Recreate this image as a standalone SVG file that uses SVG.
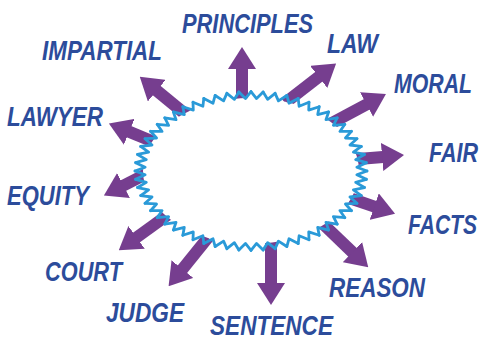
<svg xmlns="http://www.w3.org/2000/svg" xmlns:xlink="http://www.w3.org/1999/xlink" width="484" height="338" viewBox="0 0 484 338">
<style>
.lbl{font-family:"Liberation Sans",Arial,sans-serif;font-weight:bold;font-style:italic;font-size:27px;fill:#2C4C9B}
.shaft{stroke:#763E8F;stroke-width:12;fill:none}
.tooth{fill:none;stroke:#2A9AD8;stroke-width:2.8;stroke-linejoin:round;stroke-linecap:round}
</style>
<defs>
<marker id="head" viewBox="0 0 22 28" markerWidth="22" markerHeight="28" markerUnits="userSpaceOnUse" refX="1" refY="14" orient="auto">
<path d="M0,0 L22,14 L0,28 Z" fill="#763E8F"/>
</marker>
<polyline id="t" class="tooth" vector-effect="non-scaling-stroke" points="0,-104.5 4.998,-95.369 10.924,-103.929"/>
</defs>
<rect width="484" height="338" fill="#ffffff"/>
<g id="connectors">
<line class="shaft" x1="242" y1="100" x2="242" y2="68" marker-end="url(#head)"/>
<line class="shaft" x1="285" y1="103" x2="319.5" y2="76.3" marker-end="url(#head)"/>
<line class="shaft" x1="330" y1="124" x2="367.4" y2="104" marker-end="url(#head)"/>
<line class="shaft" x1="355" y1="159.3" x2="383.1" y2="156.9" marker-end="url(#head)"/>
<line class="shaft" x1="350" y1="198.3" x2="375.2" y2="206.9" marker-end="url(#head)"/>
<line class="shaft" x1="322" y1="223" x2="353.1" y2="252.8" marker-end="url(#head)"/>
<line class="shaft" x1="271" y1="241" x2="271" y2="284" marker-end="url(#head)"/>
<line class="shaft" x1="208" y1="237.5" x2="181.8" y2="269.9" marker-end="url(#head)"/>
<line class="shaft" x1="169" y1="214" x2="135.8" y2="238" marker-end="url(#head)"/>
<line class="shaft" x1="151" y1="171.5" x2="122.6" y2="186" marker-end="url(#head)"/>
<line class="shaft" x1="157" y1="143.2" x2="128.3" y2="131.4" marker-end="url(#head)"/>
<line class="shaft" x1="187" y1="115.5" x2="156" y2="90" marker-end="url(#head)"/>
</g>
<g id="center">
<ellipse cx="251" cy="171" rx="108" ry="73" fill="#ffffff"/>
<g transform="translate(251,171) scale(1.11,0.76)">
<use xlink:href="#t" transform="rotate(0)"/><use xlink:href="#t" transform="rotate(6)"/><use xlink:href="#t" transform="rotate(12)"/><use xlink:href="#t" transform="rotate(18)"/><use xlink:href="#t" transform="rotate(24)"/><use xlink:href="#t" transform="rotate(30)"/><use xlink:href="#t" transform="rotate(36)"/><use xlink:href="#t" transform="rotate(42)"/><use xlink:href="#t" transform="rotate(48)"/><use xlink:href="#t" transform="rotate(54)"/>
<use xlink:href="#t" transform="rotate(60)"/><use xlink:href="#t" transform="rotate(66)"/><use xlink:href="#t" transform="rotate(72)"/><use xlink:href="#t" transform="rotate(78)"/><use xlink:href="#t" transform="rotate(84)"/><use xlink:href="#t" transform="rotate(90)"/><use xlink:href="#t" transform="rotate(96)"/><use xlink:href="#t" transform="rotate(102)"/><use xlink:href="#t" transform="rotate(108)"/><use xlink:href="#t" transform="rotate(114)"/>
<use xlink:href="#t" transform="rotate(120)"/><use xlink:href="#t" transform="rotate(126)"/><use xlink:href="#t" transform="rotate(132)"/><use xlink:href="#t" transform="rotate(138)"/><use xlink:href="#t" transform="rotate(144)"/><use xlink:href="#t" transform="rotate(150)"/><use xlink:href="#t" transform="rotate(156)"/><use xlink:href="#t" transform="rotate(162)"/><use xlink:href="#t" transform="rotate(168)"/><use xlink:href="#t" transform="rotate(174)"/>
<use xlink:href="#t" transform="rotate(180)"/><use xlink:href="#t" transform="rotate(186)"/><use xlink:href="#t" transform="rotate(192)"/><use xlink:href="#t" transform="rotate(198)"/><use xlink:href="#t" transform="rotate(204)"/><use xlink:href="#t" transform="rotate(210)"/><use xlink:href="#t" transform="rotate(216)"/><use xlink:href="#t" transform="rotate(222)"/><use xlink:href="#t" transform="rotate(228)"/><use xlink:href="#t" transform="rotate(234)"/>
<use xlink:href="#t" transform="rotate(240)"/><use xlink:href="#t" transform="rotate(246)"/><use xlink:href="#t" transform="rotate(252)"/><use xlink:href="#t" transform="rotate(258)"/><use xlink:href="#t" transform="rotate(264)"/><use xlink:href="#t" transform="rotate(270)"/><use xlink:href="#t" transform="rotate(276)"/><use xlink:href="#t" transform="rotate(282)"/><use xlink:href="#t" transform="rotate(288)"/><use xlink:href="#t" transform="rotate(294)"/>
<use xlink:href="#t" transform="rotate(300)"/><use xlink:href="#t" transform="rotate(306)"/><use xlink:href="#t" transform="rotate(312)"/><use xlink:href="#t" transform="rotate(318)"/><use xlink:href="#t" transform="rotate(324)"/><use xlink:href="#t" transform="rotate(330)"/><use xlink:href="#t" transform="rotate(336)"/><use xlink:href="#t" transform="rotate(342)"/><use xlink:href="#t" transform="rotate(348)"/><use xlink:href="#t" transform="rotate(354)"/>
</g>
</g>
<g id="principles"><text class="lbl" x="182" y="33" textLength="131" lengthAdjust="spacingAndGlyphs">PRINCIPLES</text></g>
<g id="law"><text class="lbl" x="327" y="53" textLength="51" lengthAdjust="spacingAndGlyphs">LAW</text></g>
<g id="moral"><text class="lbl" x="394" y="93" textLength="78" lengthAdjust="spacingAndGlyphs">MORAL</text></g>
<g id="fair"><text class="lbl" x="429" y="162" textLength="49" lengthAdjust="spacingAndGlyphs">FAIR</text></g>
<g id="facts"><text class="lbl" x="408" y="234" textLength="69" lengthAdjust="spacingAndGlyphs">FACTS</text></g>
<g id="reason"><text class="lbl" x="329" y="297" textLength="96" lengthAdjust="spacingAndGlyphs">REASON</text></g>
<g id="sentence"><text class="lbl" x="210" y="335" textLength="123" lengthAdjust="spacingAndGlyphs">SENTENCE</text></g>
<g id="judge"><text class="lbl" x="106" y="322" textLength="78" lengthAdjust="spacingAndGlyphs">JUDGE</text></g>
<g id="court"><text class="lbl" x="45" y="281" textLength="77" lengthAdjust="spacingAndGlyphs">COURT</text></g>
<g id="equity"><text class="lbl" x="7" y="205" textLength="82" lengthAdjust="spacingAndGlyphs">EQUITY</text></g>
<g id="lawyer"><text class="lbl" x="7" y="126" textLength="96" lengthAdjust="spacingAndGlyphs">LAWYER</text></g>
<g id="impartial"><text class="lbl" x="42" y="60" textLength="120" lengthAdjust="spacingAndGlyphs">IMPARTIAL</text></g>
</svg>
